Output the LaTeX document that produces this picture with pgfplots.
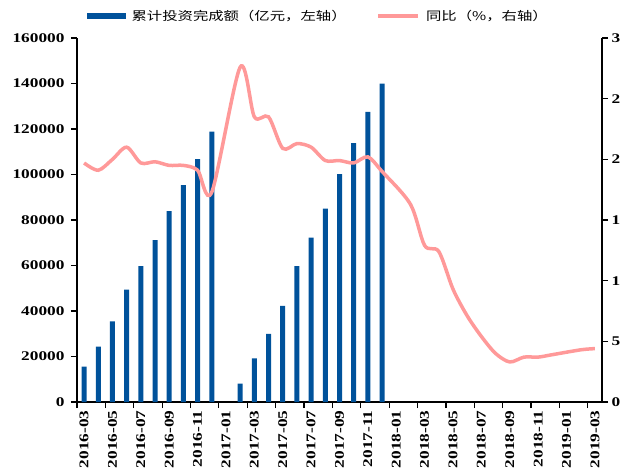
\documentclass[border=0pt]{standalone}
\usepackage{pgfplots}
\pgfplotsset{compat=1.18}
\usepackage{fontspec}
\setmainfont[FakeStretch=1.3]{Liberation Serif}
\newfontfamily\cjk[FakeStretch=1.28]{Noto Sans CJK SC}
\definecolor{barblue}{RGB}{0,82,155}
\definecolor{linepink}{RGB}{255,153,153}

\pgfplotstableread{
x y
0 15500
1 24300
2 35400
3 49400
4 59700
5 71200
6 83900
7 95300
8 106800
9 118900
11 8100
12 19200
13 29900
14 42300
15 59700
16 72200
17 85000
18 100200
19 113800
20 127500
21 140000
}\bars

\pgfplotstableread{
x y
0 19.7
1 19.1
2 20.0
3 21.0
4 19.7
5 19.8
6 19.5
7 19.5
8 19.1
9 17.3
11 27.6
12 23.5
13 23.5
14 20.9
15 21.3
16 21.0
17 19.9
18 19.9
19 19.7
20 20.2
21 19.0
23 16.3
24 12.9
25 12.4
26 9.3
27 7.1
28 5.4
29 4.0
30 3.3
31 3.7
32 3.7
33 3.9
35 4.3
36 4.4
}\growth

\begin{document}
\begin{tikzpicture}
\pgfplotsset{
  base/.style={
    scale only axis, width=525pt, height=364pt,
    xmin=-0.5, xmax=36.5,
    at={(77pt,73pt)}, anchor=south west,
    tick align=outside, major tick length=6pt,
    axis line style={line width=1.2pt, black},
    tick style={line width=1.2pt, black},
    ticklabel style={font=\fontsize{13.3}{15}\selectfont\bfseries},
    /pgf/number format/assume math mode=true,
    /pgf/number format/fixed,
    /pgf/number format/precision=0,
    /pgf/number format/1000 sep={},
    scaled y ticks=false,
    clip=false,
  }
}
\begin{axis}[base,
  axis x line*=bottom, axis y line*=left,
  ymin=0, ymax=160000,
  ytick={0,20000,...,160000},
  yticklabel style={xshift=-3pt},
  ybar, bar width=5pt,
  xtick={-0.5,1.5,...,35.5},
  xticklabels={},
  extra x ticks={0,2,...,36},
  extra x tick labels={2016-03,2016-05,2016-07,2016-09,2016-11,2017-01,2017-03,2017-05,2017-07,2017-09,2017-11,2018-01,2018-03,2018-05,2018-07,2018-09,2018-11,2019-01,2019-03},
  extra x tick style={major tick length=0pt,
    xticklabel style={yshift=-5pt, rotate=90, anchor=east}},
]
\addplot[fill=barblue, draw=none] table[x=x, y=y] {\bars};
\end{axis}
\begin{axis}[base,
  axis x line=none, axis y line*=right,
  ymin=0, ymax=30,
  ytick={0,5,...,30},
  yticklabels={0,5,1,1,2,2,3},
  legend columns=2,
  legend style={at={(0.019,1.0604)}, anchor=west, draw=none, fill=none,
    inner sep=0pt,
    font=\cjk\fontsize{12}{14}\selectfont,
    nodes={inner sep=0pt},
    /tikz/every odd column/.append style={column sep=6pt},
    /tikz/every even column/.append style={column sep=30pt}},
]
\addlegendimage{legend image code/.code={\fill[barblue] (0pt,-2.5pt) rectangle (38pt,2.5pt);}}
\addlegendentry{累计投资完成额（亿元，左轴）}
\addplot[linepink, line width=3.5pt, smooth, no markers,
  legend image code/.code={\draw[linepink, line width=3.5pt] (0pt,0pt) -- (40pt,0pt);}]
  table[x=x, y=y] {\growth};
\addlegendentry{同比（\%，右轴）}
\end{axis}
\pgfresetboundingbox
\path[use as bounding box] (0,0) rectangle (625pt,475pt);
\end{tikzpicture}
\end{document}
